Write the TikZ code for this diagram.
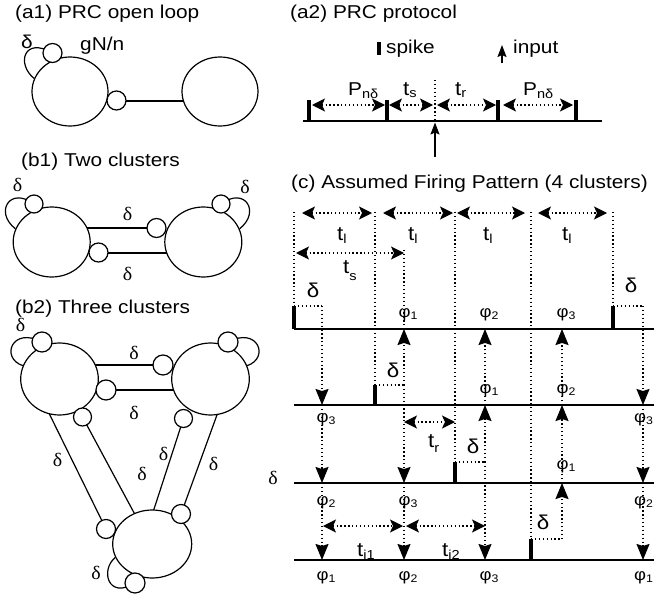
\documentclass[tikz,border=0pt]{standalone}
\usepackage{fontspec}
\setmainfont[FakeStretch=1.12]{Liberation Sans}
\newfontfamily\serf[FakeStretch=1.05]{Liberation Serif}
\usetikzlibrary{shapes.geometric,arrows.meta}
\pgfdeclarelayer{bg}
\pgfsetlayers{bg,main}
\newcommand\fh{\fontsize{18.6}{20}\selectfont}
\newcommand\ft{\fontsize{20}{20}\selectfont}
\newcommand\fsub{\fontsize{13}{13}\selectfont}
\newcommand\fphi{\fontsize{16.5}{16.5}\selectfont}
\newcommand\subsc[2][3pt]{\raisebox{-#1}{\fsub #2}}
\newcommand\phl[1]{{\fphi φ\raisebox{-2.5pt}{\fontsize{11}{11}\selectfont #1}}}
\newcommand\sdl{{\serf\fontsize{19}{19}\selectfont δ}}
\newcommand\ssd{{\fontsize{20}{20}\selectfont δ}}
\begin{document}
\begin{tikzpicture}[x=1pt,y=-1pt,
  lab/.style={inner sep=0pt,anchor=base west},
  ctr/.style={inner sep=0pt,anchor=center},
  ell/.style={draw,ellipse,line width=1.2pt,fill=white,inner sep=0pt},
  sc/.style={draw,circle,line width=1.2pt,fill=white,inner sep=0pt,minimum size=19pt},
  conn/.style={line width=2pt},
  thinl/.style={line width=1.2pt},
  dl/.style={line width=1.3pt,dash pattern=on 1.3pt off 2.6pt},
  hd/.style={dl,{Stealth[length=13pt,width=13pt,inset=3pt]}-{Stealth[length=13pt,width=13pt,inset=3pt]}},
  va/.style={dl,-{Stealth[length=16pt,width=13pt,inset=2pt]}},
  ina/.style={line width=1.5pt,-{Stealth[length=12pt,width=9pt,inset=2pt]}},
  tline/.style={line width=2.6pt},
  spk/.style={line width=3.2pt}]
\useasboundingbox (0,0) rectangle (654,597);

% ---------- headings
\node[lab] (ha1) at (15,19) {\fh (a1) PRC open loop};
\node[lab] (ha2) at (290,18) {\fh (a2) PRC protocol};
\node[lab] (hb1) at (21,166) {\fh (b1) Two clusters};
\node[lab] (hb2) at (15,313) {\fh (b2) Three clusters};
\node[lab] (hc) at (291,188) {\fh (c) Assumed Firing Pattern (4 clusters)};

% ---------- (a1)
\node[ell,minimum width=76pt,minimum height=69pt] (E1) at (70,91.5) {};
\node[ell,minimum width=76pt,minimum height=69pt] (E2) at (220,91.5) {};
\node[sc] (s1) at (52.5,53) {};
\node[sc] (s2) at (116.5,100.5) {};
\node[ctr] (da1) at (27,41.5) {\fh δ};
\node[lab] (gn) at (80,50) {\fh gN/n};

% ---------- (b1)
\node[ell,minimum width=77pt,minimum height=70pt] (L) at (51.7,242) {};
\node[ell,minimum width=77pt,minimum height=70pt] (R) at (203.3,242) {};
\node[sc,minimum size=18pt] (bl1) at (34,204) {};
\node[sc,minimum size=18pt] (bl2) at (221,204) {};
\node[sc] (bu) at (156.5,228) {};
\node[sc] (bd) at (98.5,252.5) {};
\node[ctr] (db1) at (17.5,185) {\sdl};
\node[ctr] (db2) at (245,187) {\sdl};
\node[ctr] (db3) at (127.5,214) {\sdl};
\node[ctr] (db4) at (127.5,274) {\sdl};

% ---------- (b2)
\node[ell,minimum width=77.6pt,minimum height=72pt] (TLe) at (59.5,379) {};
\node[ell,minimum width=77.6pt,minimum height=72pt] (TRe) at (210.5,379) {};
\node[ell,minimum width=79pt,minimum height=68pt] (Be) at (152.2,544) {};
\node[sc,minimum size=20pt] (c2a) at (42,342) {};
\node[sc,minimum size=20pt] (c2b) at (228,342) {};
\node[sc,minimum size=20pt] (c2u) at (163,365) {};
\node[sc,minimum size=20pt] (c2d) at (106,390) {};
\node[sc,minimum size=18pt] (c2l) at (82.5,417) {};
\node[sc,minimum size=18pt] (c2r) at (183.5,418.5) {};
\node[sc] (c2bl) at (106,529) {};
\node[sc] (c2br) at (181,514) {};
\node[sc,minimum size=20pt] (c2bot) at (135,583) {};
\coordinate (d1a) at (42,399);
\coordinate (d2a) at (140.6,525);
\coordinate (d3a) at (148.5,526);
\coordinate (d4a) at (222.4,400);
\node[ctr] (dc1) at (20.5,325) {\sdl};
\node[ctr] (dc2) at (134,353) {\sdl};
\node[ctr] (dc3) at (134,413) {\sdl};
\node[ctr] (dc4) at (57.5,459.5) {\sdl};
\node[ctr] (dc5) at (142,474) {\sdl};
\node[ctr] (dc6) at (163.5,454) {\sdl};
\node[ctr] (dc7) at (213.5,464) {\sdl};
\node[ctr] (dc8) at (96,573) {\sdl};

\begin{pgfonlayer}{bg}
  % a1
  \draw[thinl] (E1.160) .. controls (16,64) and (24,36) .. (s1.center);
  \draw[conn] (s2.center) -- (s2.center -| E2.center);
  % b1
  \draw[thinl] (L.160) .. controls (-6,212) and (10,186) .. (bl1.center);
  \draw[thinl] (R.20) .. controls (261,212) and (245,186) .. (bl2.center);
  \draw[conn] (bu.center -| L.center) -- (bu.center);
  \draw[conn] (bd.center) -- (bd.center -| R.center);
  % b2
  \draw[thinl] (TLe.160) .. controls (0,358) and (12,326) .. (c2a.center);
  \draw[thinl] (TRe.20) .. controls (270,358) and (258,326) .. (c2b.center);
  \draw[thinl] (Be.200) .. controls (100,570) and (108,600) .. (c2bot.center);
  \draw[conn] (c2u.center -| TLe.center) -- (c2u.center);
  \draw[conn] (c2d.center) -- (c2d.center -| TRe.center);
  \draw[thinl] (d1a) -- (c2bl.center);
  \draw[thinl] (c2l.center) -- (d2a);
  \draw[thinl] (c2r.center) -- (d3a);
  \draw[thinl] (d4a) -- (c2br.center);
\end{pgfonlayer}

% ---------- (a2)
\draw[spk] (379,42) -- (379,55);
\node[lab] (lsp) at (386,53.5) {\fh spike};
\draw[ina] (502,63) -- (502,45);
\node[lab] (lin) at (513,53.5) {\fh input};
\draw[tline] (303,121) -- (602,121);
\foreach \x in {309,387,498,576} \draw[spk] (\x,100) -- (\x,121);
\draw[dl] (435,80) -- (435,121);
\draw[ina] (435,157) -- (435,122.5);
\draw[hd] (312,105) -- (385,105);
\draw[hd] (389,105) -- (433,105);
\draw[hd] (437,105) -- (496,105);
\draw[hd] (503,105) -- (573,105);
\node[lab] (pa) at (348,95) {\fh P\subsc{nδ}};
\node[lab] (tsa) at (403,95) {\ft t\subsc[2pt]{s}};
\node[lab] (tra) at (455,95) {\ft t\subsc[2pt]{r}};
\node[lab] (pb) at (523,95) {\fh P\subsc{nδ}};

% ---------- (c)
\foreach \y in {329,405,483,560} \draw[tline] (294,\y) -- (654,\y);
% spikes
\draw[spk] (294,306) -- (294,329);
\draw[spk] (375,385) -- (375,405);
\draw[spk] (455,462) -- (455,483);
\draw[spk] (531,539) -- (531,560);
\draw[spk] (613,306) -- (613,329);
% top dotted verticals
\draw[dl] (294,212) -- (294,306);
\draw[dl] (375,212) -- (375,385);
\draw[dl] (455,212) -- (455,462);
\draw[dl] (531,212) -- (531,539);
\draw[dl] (613,212) -- (613,306);
% delta offsets
\draw[dl] (294,306) -- (322,306);
\draw[dl] (375,385) -- (404,385);
\draw[dl] (455,462) -- (485,462);
\draw[dl] (531,539) -- (562,539);
\draw[dl] (613,306) -- (643,306);
\draw[dl] (404,250) -- (404,329);
% arrows
\draw[va] (322,306) -- (322,405);
\draw[va] (322,405) -- (322,483);
\draw[va] (322,483) -- (322,560);
\draw[va] (404,385) -- (404,329);
\draw[va] (404,385) -- (404,483);
\draw[va] (404,483) -- (404,560);
\draw[va] (485,462) -- (485,405);
\draw[va] (485,405) -- (485,329);
\draw[va] (485,462) -- (485,560);
\draw[va] (562,539) -- (562,483);
\draw[va] (562,483) -- (562,405);
\draw[va] (562,405) -- (562,329);
\draw[va] (643,306) -- (643,405);
\draw[va] (643,405) -- (643,483);
\draw[va] (643,483) -- (643,560);
% interval arrows
\draw[hd] (302,213) -- (372,213);
\draw[hd] (383,213) -- (453,213);
\draw[hd] (457,213) -- (525,213);
\draw[hd] (538,213) -- (607,213);
\draw[hd] (296,253) -- (404,253);
\draw[hd] (404,422) -- (455,422);
\draw[hd] (323,526) -- (403,526);
\draw[hd] (406,526) -- (485,526);
% interval labels
\node[lab] (tl1) at (337,240) {\ft t\subsc{l}};
\node[lab] (tl2) at (408,240) {\ft t\subsc{l}};
\node[lab] (tl3) at (483,240) {\ft t\subsc{l}};
\node[lab] (tl4) at (562,240) {\ft t\subsc{l}};
\node[lab] (tsc) at (343,273) {\ft t\subsc[7pt]{s}};
\node[lab] (trc) at (428,447) {\ft t\subsc[5pt]{r}};
\node[lab] (ti1) at (357,556) {\ft t\subsc{i1}};
\node[lab] (ti2) at (442,556) {\ft t\subsc{i2}};
% delta labels
\node[ctr] (dd1) at (313,290) {\ssd};
\node[ctr] (dd2) at (393,370) {\ssd};
\node[ctr] (dd3) at (473,446) {\ssd};
\node[ctr] (dd4) at (543,522) {\ssd};
\node[ctr] (dd5) at (631,285) {\ssd};
\node[ctr] (dd6) at (273,478) {\sdl};
% phase labels
\foreach \x/\y/\k [count=\i] in {404/317/1,485/317/2,562/317/3,
    322/422/3,485/393/1,562/393/2,
    322/505/2,404/505/3,562/469/1,
    322/580/1,404/580/2,485/580/3}
  \node[lab] (ph\i) at (\x-5.5,\y) {\phl{\k}};
\node[lab] (phr2) at (634,422) {\phl{3}};
\node[lab] (phr3) at (634,505) {\phl{2}};
\node[lab] (phr4) at (634,580) {\phl{1}};
\end{tikzpicture}
\end{document}
